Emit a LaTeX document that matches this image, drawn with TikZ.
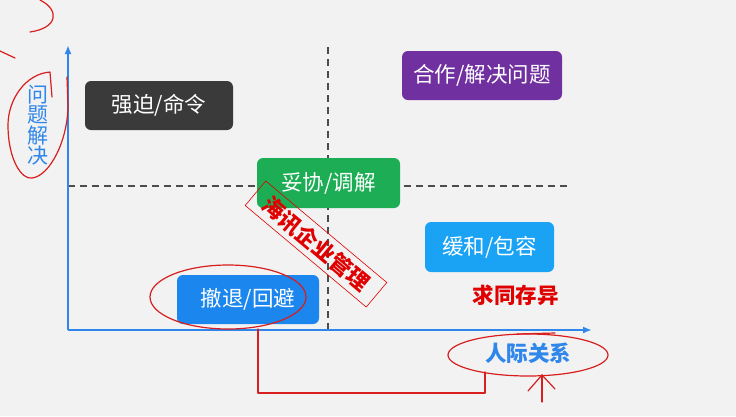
\documentclass[tikz,border=0pt]{standalone}
\usepackage{fontspec}
\setmainfont{Noto Sans CJK SC}
\usetikzlibrary{arrows.meta}
\definecolor{bgray}{HTML}{F2F2F2}
\definecolor{axisblue}{HTML}{2F86EB}
\definecolor{forcegray}{HTML}{3A3A3A}
\definecolor{collabpurple}{HTML}{7030A0}
\definecolor{compgreen}{HTML}{1DAD55}
\definecolor{smoothblue}{HTML}{1AA3F5}
\definecolor{avoidblue}{HTML}{1A86EE}
\definecolor{markred}{HTML}{D81E1E}
\definecolor{stampred}{HTML}{E00000}
\tikzstyle{mode}=[rectangle,rounded corners=6pt,text=white,inner sep=0pt,font=\fontsize{21.5}{22}\selectfont]
\tikzstyle{axis}=[axisblue,line width=2pt,-{Latex[length=9pt,width=7pt]}]
\tikzstyle{quadline}=[black!70,line width=1.5pt,dash pattern=on 7pt off 5pt]
\tikzstyle{scribble}=[markred,line width=1.2pt,line cap=round,line join=round]

\begin{document}
\begin{tikzpicture}[x=1pt,y=-1pt,>=latex]
            \fill[bgray] (0,0) rectangle (736,416);
            \useasboundingbox (0,0) rectangle (736,416);
            % axes and quadrant lines
            \coordinate (O) at (68,330);
            \coordinate (ytop) at (68,45);
            \coordinate (xend) at (592,330);
            \coordinate (hl) at (68,186);
            \coordinate (hr) at (570,186);
            \coordinate (vt) at (328,47);
            \coordinate (vb) at (328,330);
            \draw[quadline] (hl) -- (hr);
            \draw[quadline] (vt) -- (vb);
            \draw[axis] (O) -- (ytop);
            \draw[axis] (O) -- (xend);
            % the five modes
            \node[mode,fill=forcegray,minimum width=148pt,minimum height=49pt] (force) at (159,105.5) {强迫/命令};
            \node[mode,fill=collabpurple,minimum width=160pt,minimum height=49pt] (collab) at (482,75.5) {合作/解决问题};
            \node[mode,fill=compgreen,minimum width=143pt,minimum height=50pt] (comp) at (328.5,183) {妥协/调解};
            \node[mode,fill=smoothblue,minimum width=129pt,minimum height=50pt] (smooth) at (489.5,247) {缓和/包容};
            \node[mode,fill=avoidblue,minimum width=142pt,minimum height=49pt] (avoid) at (248,299.5) {撤退/回避};
            % labels
            \node[text=axisblue,font=\bfseries\fontsize{21.5}{22}\selectfont] (xlabel) at (528,353) {人际关系};
            \node[text=axisblue,align=center,font=\fontsize{21}{20.5}\selectfont] (ylabel) at (38,125) {问\\题\\解\\决};
            \node[text=stampred,font=\bfseries\fontsize{21.5}{22}\selectfont] (seek) at (515.5,295) {求同存异};
            \node[draw=stampred,text=stampred,line width=0.6pt,rotate=-40,minimum width=158pt,minimum height=32pt,font=\bfseries\fontsize{22}{24}\selectfont] (stamp) at (316,244) {海讯企业管理};
            % red marks
            \draw[scribble] (40,0) .. controls (60,10) and (58,28) .. (30,32);
            \draw[scribble] (0,51) -- (15,58);
            \draw[scribble] (52,97) -- (50,72) .. controls (25,74) and (8,100) .. (8,125) .. controls (8,160) and (22,180) .. (32,178) .. controls (50,176) and (68,140) .. (68,105) -- (67,77);
            \coordinate (avoidring) at (228,297);
            \draw[scribble] (avoidring) ellipse [x radius=78pt,y radius=32pt];
            \coordinate (xring) at (528,355);
            \draw[scribble] (xring) ellipse [x radius=80pt,y radius=21pt];
            \draw[scribble] (517,334) -- (555,333);
            \coordinate (avoidfoot) at (258,329);
            \coordinate (xfoot) at (485,372);
            \draw[scribble] (avoidfoot) -- (avoidfoot |- 0,393) -| (xfoot);
            \coordinate (tip) at (542,375);
            \draw[scribble] (542,402) -- (tip);
            \draw[scribble] (528,391) -- (tip) -- (555,389);
        \end{tikzpicture}
\end{document}
